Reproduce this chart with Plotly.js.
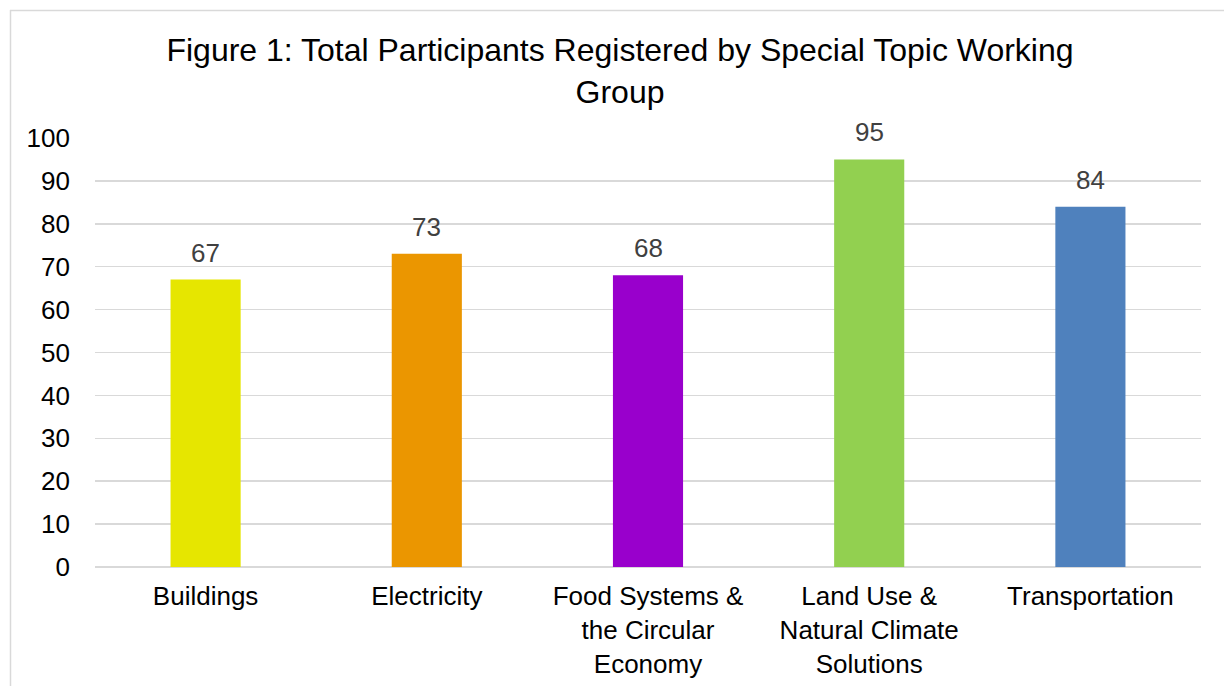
<!DOCTYPE html>
<html><head><meta charset="utf-8">
<script src="https://cdn.plot.ly/plotly-3.0.1.min.js"></script>
<style>html,body{margin:0;padding:0;background:#fff}#chart{width:1224px;height:686px}</style>
</head><body><div id="chart"></div>
<script>
const categories = ["Buildings", "Electricity", "Food Systems &<br>the Circular<br>Economy", "Land Use &<br>Natural Climate<br>Solutions", "Transportation"];
const values = [67, 73, 68, 95, 84];
const barColors = ["#E6E600", "#EB9600", "#9900CC", "#92D050", "#4F81BD"];
const yTicks = [0, 10, 20, 30, 40, 50, 60, 70, 80, 90, 100];

const font = "Liberation Sans, Arial, sans-serif";
const L = 95, R = 1201, T = 138, B = 567;
const px2x = p => (p - L) / (R - L);
const px2y = p => (B - p) / (B - T);

Plotly.newPlot("chart", [{
  type: "bar",
  x: categories,
  y: values,
  marker: {color: barColors},
  width: 0.317,
  hoverinfo: "none"
}], {
  width: 1224, height: 686,
  margin: {l: L, r: 1224 - R, t: T, b: 686 - B},
  paper_bgcolor: "#fff", plot_bgcolor: "#fff",
  showlegend: false,
  title: {text: "Figure 1: Total Participants Registered by Special Topic Working<br>Group",
          font: {family: font, size: 32, color: "#000"},
          x: 620 / 1224, xref: "container", xanchor: "center",
          y: 1 - 61 / 686, yref: "container", yanchor: "top"},
  xaxis: {tickfont: {family: font, size: 26, color: "#000"}, showgrid: false, showline: false, ticks: "",
          ticklabelstandoff: 11, fixedrange: true},
  yaxis: {range: [0, 100], tickvals: yTicks, ticktext: yTicks.map(String),
          tickfont: {family: font, size: 26, color: "#000"},
          showgrid: true, gridcolor: "#D9D9D9", gridwidth: 1.5,
          zeroline: true, zerolinecolor: "#D9D9D9", zerolinewidth: 1.5,
          showline: false, ticks: "", ticklabelstandoff: 24, fixedrange: true},
  annotations: values.map((v, i) => ({
    x: categories[i], y: v, xref: "x", yref: "y", text: String(v), showarrow: false,
    yanchor: "bottom", yshift: 10, font: {family: font, size: 26, color: "#404040"}
  })),
  shapes: [
    {type: "line", xref: "paper", yref: "paper", x0: px2x(10), x1: px2x(1230), y0: px2y(10.5), y1: px2y(10.5), line: {color: "#D9D9D9", width: 1.5}},
    {type: "line", xref: "paper", yref: "paper", x0: px2x(10.5), x1: px2x(10.5), y0: px2y(10), y1: px2y(700), line: {color: "#D9D9D9", width: 1.5}}
  ]
}, {displayModeBar: false, staticPlot: true});
</script></body></html>
